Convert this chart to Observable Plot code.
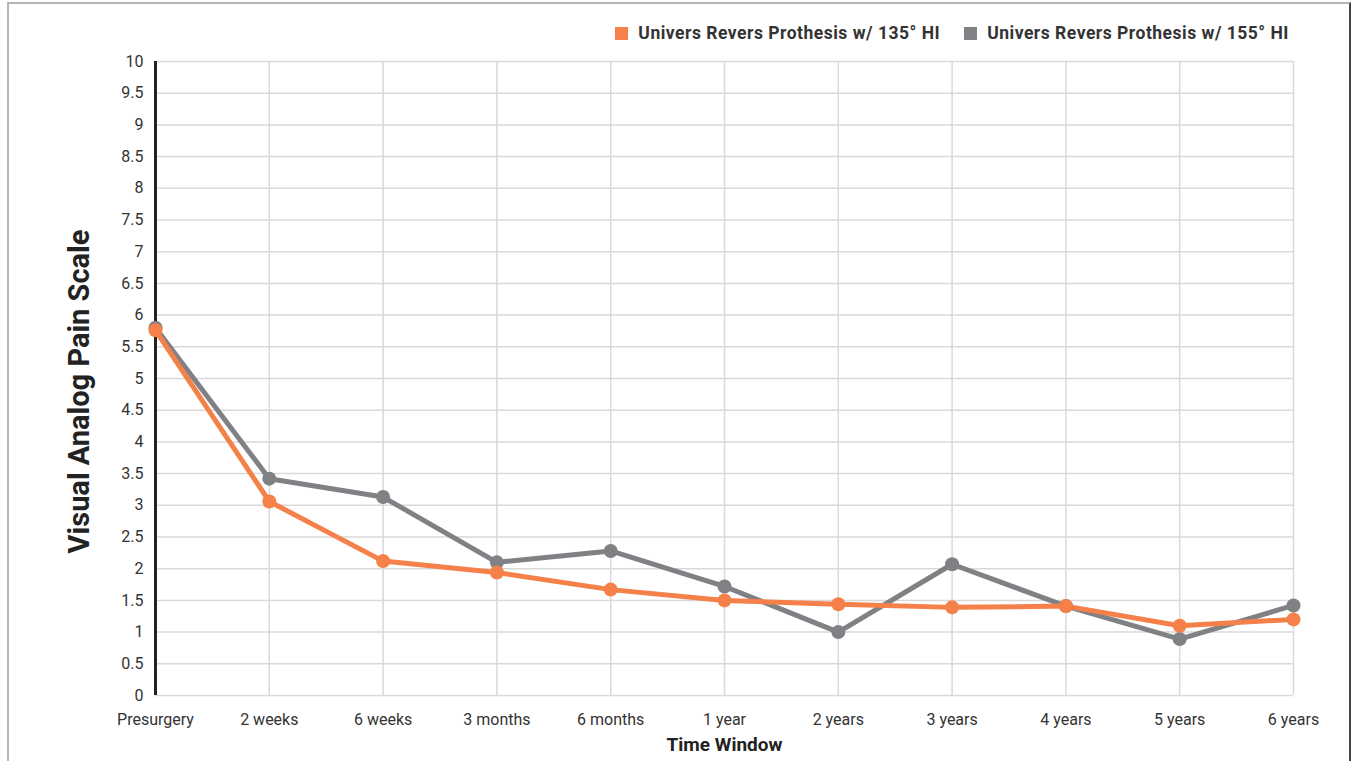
<!DOCTYPE html>
<html>
<head>
<meta charset="utf-8">
<script src="https://cdn.jsdelivr.net/npm/d3@7"></script>
<script src="https://cdn.jsdelivr.net/npm/@observablehq/plot@0.6"></script>
<style>
  html, body { margin: 0; padding: 0; background: #fff; width: 1353px; height: 761px; overflow: hidden; font-family: Roboto, "Open Sans", sans-serif; }
  #frame { position: absolute; left: 7px; top: 2px; width: 1344px; height: 800px; border: 2px solid #b5b5b5; box-sizing: border-box; border-right-color: #444; }
  #legend { position: relative; height: 50px; display: flex; justify-content: flex-end; align-items: flex-start; padding-top: 23px; padding-right: 64px; box-sizing: border-box; font-weight: 700; font-size: 17.5px; letter-spacing: 0.5px; color: #333; }
  .item { display: flex; align-items: center; margin-left: 24px; line-height: 20px; }
  .sw { width: 13px; height: 13px; margin-right: 10px; }
  #chart { position: relative; }
</style>
</head>
<body>
<div id="frame"></div>
<div id="legend"></div>
<div id="chart"></div>
<script>
const timeWindows = ["Presurgery", "2 weeks", "6 weeks", "3 months", "6 months", "1 year", "2 years", "3 years", "4 years", "5 years", "6 years"];
const seriesNames = ["Univers Revers Prothesis w/ 135° HI", "Univers Revers Prothesis w/ 155° HI"];
const seriesColors = ["#f5804a", "#808184"];
const vas135 = [5.76, 3.06, 2.12, 1.94, 1.67, 1.50, 1.44, 1.39, 1.41, 1.10, 1.20];
const vas155 = [5.80, 3.42, 3.13, 2.10, 2.28, 1.72, 1.00, 2.07, 1.41, 0.89, 1.42];
const yTicks = d3.range(0, 10.01, 0.5);

const data = [
  ...timeWindows.map((t, i) => ({time: t, value: vas155[i], series: seriesNames[1]})),
  ...timeWindows.map((t, i) => ({time: t, value: vas135[i], series: seriesNames[0]}))
];

// legend
const legend = document.getElementById("legend");
seriesNames.forEach((n, i) => {
  const it = document.createElement("div");
  it.className = "item";
  it.innerHTML = `<span class="sw" style="background:${seriesColors[i]}"></span><span>${n}</span>`;
  legend.appendChild(it);
});

const plot = Plot.plot({
  width: 1353,
  height: 711,
  marginLeft: 155,
  marginRight: 60,
  marginTop: 11,
  marginBottom: 66,
  style: { fontFamily: "Roboto, sans-serif", fontSize: "16px", color: "#333", background: "transparent" },
  x: { type: "point", domain: timeWindows, label: null, padding: 0, round: false },
  y: { domain: [0, 10], label: null },
  color: { domain: seriesNames, range: seriesColors },
  marks: [
    Plot.gridY(yTicks, { stroke: "#d9d9d9", strokeOpacity: 1, strokeWidth: 1.5 }),
    Plot.gridX(timeWindows, { stroke: "#d9d9d9", strokeOpacity: 1, strokeWidth: 1.5 }),
    Plot.axisY(yTicks, { tickSize: 0, tickPadding: 12, fontSize: 16, label: null, tickFormat: d => String(d) }),
    Plot.axisX({ tickSize: 0, tickPadding: 18, fontSize: 16, label: null }),
    Plot.ruleX([0], { x: () => timeWindows[0], y1: 0, y2: 10, stroke: "#222", strokeWidth: 3 }),
    Plot.text(["Visual Analog Pain Scale"], { frameAnchor: "left", textAnchor: "middle", dx: -76, dy: 13, rotate: -90, fontSize: 29, fontWeight: 700, fill: "#222" }),
    Plot.text(["Time Window"], { frameAnchor: "bottom", dy: 55, fontSize: 19, fontWeight: 700, fill: "#222" }),
    Plot.line(data, { x: "time", y: "value", z: "series", stroke: "series", strokeWidth: 5 }),
    Plot.dot(data, { x: "time", y: "value", fill: "series", r: 7 })
  ]
});
document.getElementById("chart").appendChild(plot);
</script>
</body>
</html>
